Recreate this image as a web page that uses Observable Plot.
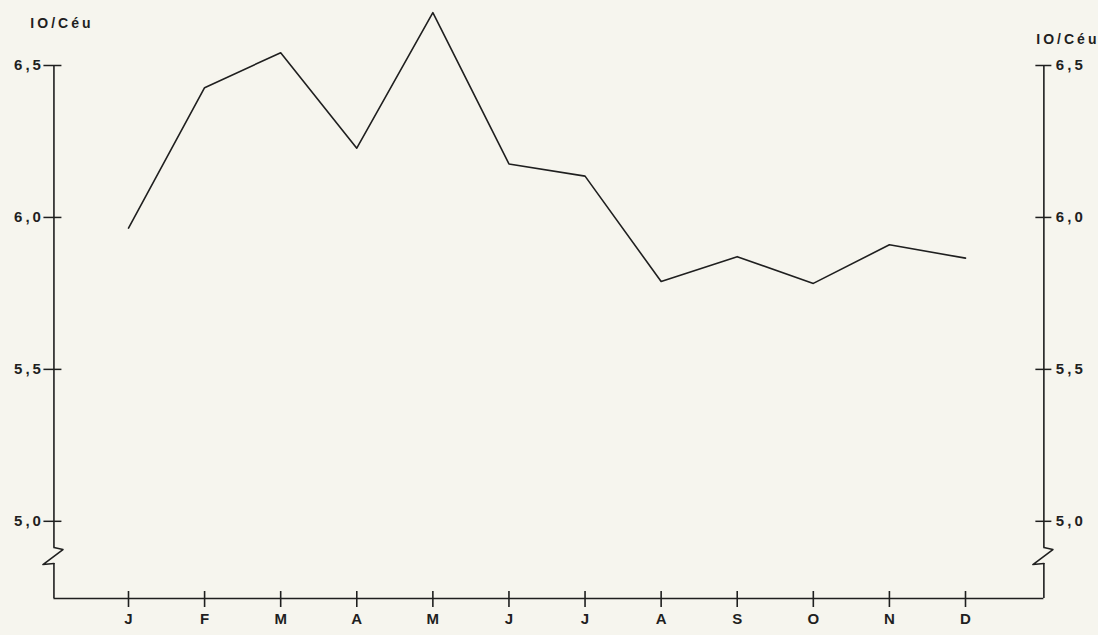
<!DOCTYPE html>
<html><head><meta charset="utf-8">
<script src="https://cdn.jsdelivr.net/npm/d3@7"></script>
<script src="https://cdn.jsdelivr.net/npm/@observablehq/plot@0.6"></script>
<style>
html,body{margin:0;padding:0;background:#f6f5ee;overflow:hidden;}
#chart svg{display:block;}
</style></head><body><div id="chart"></div>
<script>
// ---- data ----
const months = ["J","F","M","A","M","J","J","A","S","O","N","D"];
const values = [5.965, 6.427, 6.542, 6.228, 6.674, 6.176, 6.136, 5.789, 5.871, 5.783, 5.910, 5.866];
const yTicks = [5.0, 5.5, 6.0, 6.5];
const yTickLabels = ["5,0", "5,5", "6,0", "6,5"];
const unitLabel = "IO/Céu";
const yBreak = 4.884;   // where the axis break sits
const yBase = 4.746;    // value at the bottom axis line
const xLeft = -0.98, xRight = 12.03; // axis positions in month-index units

// ---- layout ----
const W = 1098, H = 635;
const xRange = [128, 965], yRange = [598, 65];
const ux = (11 - 0) / (xRange[1] - xRange[0]);          // units per px (x)
const uy = (6.5 - yBase) / (yRange[0] - yRange[1]);     // units per px (y)
const ink = "#1f1f1f";
const font = "'Liberation Sans', Arial, sans-serif";

function zig(a) {
  return [
    {x: a, y: yBreak + 9 * uy},
    {x: a + 9 * ux, y: yBreak + 7 * uy},
    {x: a - 11 * ux, y: yBreak - 8 * uy},
    {x: a, y: yBreak - 7 * uy}
  ];
}

const chart = Plot.plot({
  width: W, height: H,
  marginTop: 0, marginBottom: 0, marginLeft: 0, marginRight: 0,
  x: {domain: [0, 11], range: xRange, axis: null},
  y: {domain: [yBase, 6.5], range: yRange, axis: null},
  style: {background: "transparent", fontFamily: font, overflow: "visible"},
  marks: [
    // bottom axis
    Plot.ruleY([yBase], {x1: xLeft, x2: xRight, stroke: ink, strokeWidth: 1.4}),
    // left axis with break
    Plot.ruleX([xLeft], {y1: yBase, y2: yBreak - 7 * uy, stroke: ink, strokeWidth: 1.6}),
    Plot.ruleX([xLeft], {y1: yBreak + 9 * uy, y2: 6.5, stroke: ink, strokeWidth: 1.6}),
    Plot.line(zig(xLeft), {x: "x", y: "y", stroke: ink, strokeWidth: 1.6}),
    // right axis with break
    Plot.ruleX([xRight], {y1: yBase, y2: yBreak - 7 * uy, stroke: ink, strokeWidth: 1.6}),
    Plot.ruleX([xRight], {y1: yBreak + 9 * uy, y2: 6.5, stroke: ink, strokeWidth: 1.6}),
    Plot.line(zig(xRight), {x: "x", y: "y", stroke: ink, strokeWidth: 1.6}),
    // y ticks
    Plot.ruleY(yTicks, {y: d => d, x1: xLeft - 10 * ux, x2: xLeft + 8 * ux, stroke: ink, strokeWidth: 1.5}),
    Plot.ruleY(yTicks, {y: d => d, x1: xRight - 8 * ux, x2: xRight + 8 * ux, stroke: ink, strokeWidth: 1.5}),
    Plot.text(yTicks, {x: xLeft, y: d => d, text: (d, i) => yTickLabels[i], textAnchor: "end", dx: -10,
      fontSize: 15, fontWeight: "bold", fill: ink}),
    Plot.text(yTicks, {x: xRight, y: d => d, text: (d, i) => yTickLabels[i], textAnchor: "start", dx: 12,
      fontSize: 15, fontWeight: "bold", fill: ink}),
    // unit labels
    Plot.text([unitLabel], {x: xLeft, y: 6.5, text: d => d, dy: -42, dx: 8, fontSize: 14, fontWeight: "bold", fill: ink}),
    Plot.text([unitLabel], {x: xRight, y: 6.5, text: d => d, dy: -26, dx: 24, fontSize: 14, fontWeight: "bold", fill: ink}),
    // month ticks & labels
    Plot.ruleX(months, {x: (d, i) => i, y1: yBase - 9 * uy, y2: yBase + 7 * uy, stroke: ink, strokeWidth: 1.6}),
    Plot.text(months, {x: (d, i) => i, y: yBase, text: d => d, dy: 21, fontSize: 15, fontWeight: "bold", fill: ink}),
    // data line
    Plot.line(values, {x: (d, i) => i, y: d => d, stroke: ink, strokeWidth: 1.6})
  ]
});
const sel = d3.select(chart);
sel.selectAll("text").filter(function() { return yTickLabels.includes(this.textContent); })
  .attr("letter-spacing", 3);
sel.selectAll("text").filter(function() { return this.textContent === unitLabel; })
  .attr("letter-spacing", 3);
document.getElementById("chart").append(chart);
</script>
</body></html>
